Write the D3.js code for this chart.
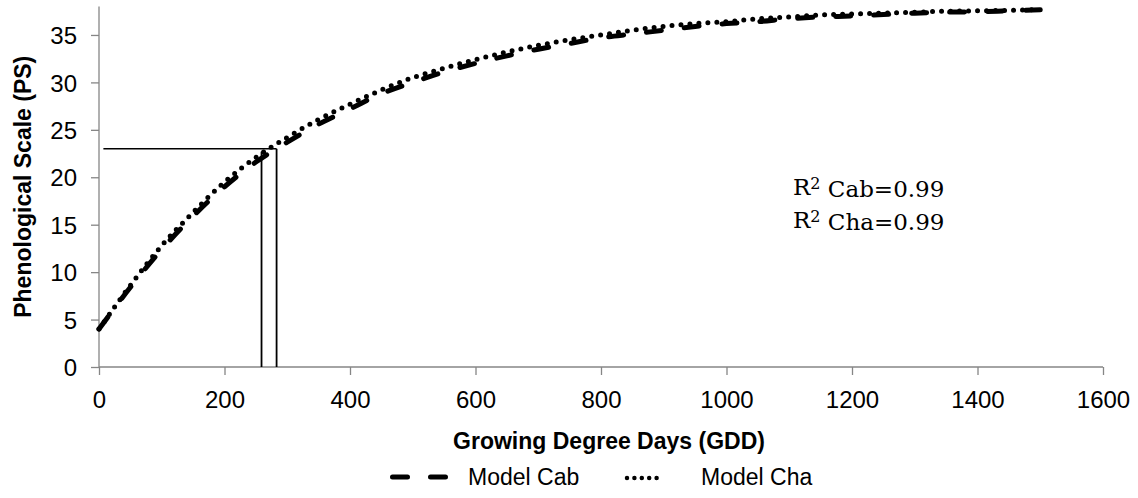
<!DOCTYPE html>
<html>
<head>
<meta charset="utf-8">
<script src="https://cdn.jsdelivr.net/npm/d3@7"></script>
<style>
  html, body { margin: 0; padding: 0; background: #fff; }
  svg { display: block; }
</style>
</head>
<body>
<svg id="chart" width="1138" height="498"></svg>
<script>
// ---- data ----
const gdd = [0, 50, 100, 150, 200, 250, 300, 350, 400, 450, 500, 550, 600, 650, 700, 750,
             800, 850, 900, 950, 1000, 1050, 1100, 1150, 1200, 1250, 1300, 1350, 1400, 1450, 1500];
const modelCab = [4.0, 8.4, 12.4, 15.9, 19.0, 21.6, 23.7, 25.6, 27.2, 28.8, 30.0, 31.1, 32.0, 32.8, 33.5, 34.1,
                  34.7, 35.1, 35.5, 35.9, 36.2, 36.4, 36.7, 36.9, 37.0, 37.15, 37.3, 37.4, 37.45, 37.55, 37.65];
const modelCha = [4.0, 8.6, 12.8, 16.3, 19.5, 22.1, 24.2, 26.1, 27.7, 29.2, 30.5, 31.5, 32.4, 33.2, 33.9, 34.5,
                  35.0, 35.5, 35.9, 36.2, 36.4, 36.7, 36.9, 37.1, 37.2, 37.3, 37.4, 37.5, 37.55, 37.6, 37.7];
const xTicks = [0, 200, 400, 600, 800, 1000, 1200, 1400, 1600];
const yTicks = [0, 5, 10, 15, 20, 25, 30, 35];
const xDomain = [0, 1600];
const yDomain = [0, 38];
// reference lines: horizontal PS level and vertical GDD marks
const refLevel = 23;
const refHStart = 7;
const refVLines = [{ gdd: 259, top: 22.7 }, { gdd: 283, top: 23 }];
const seriesNames = ["Model Cab", "Model Cha"];
const annotation = [["R", "2", " Cab=0.99"], ["R", "2", " Cha=0.99"]];

(function () {
// ---- layout ----
const svg = d3.select("#chart");
const pL = 99, pR = 1103, pT = 6.5, pB = 367;
const x = d3.scaleLinear().domain(xDomain).range([pL, pR]);
const y = d3.scaleLinear().domain(yDomain).range([pB, pT]);
const axisColor = "#868686";
const sans = "'Liberation Sans', Arial, sans-serif";

// axes
const gx = svg.append("g").attr("transform", `translate(0,${pB})`)
  .call(d3.axisBottom(x).tickValues(xTicks).tickSize(8).tickPadding(10).tickFormat(d3.format("d")));
const gy = svg.append("g").attr("transform", `translate(${pL},0)`)
  .call(d3.axisLeft(y).tickValues(yTicks).tickSize(8).tickPadding(14).tickFormat(d3.format("d")));
[gx, gy].forEach(g => {
  g.select(".domain").attr("stroke", axisColor).attr("stroke-width", 1.3);
  g.selectAll(".tick line").attr("stroke", axisColor).attr("stroke-width", 1.3);
  g.selectAll(".tick text").attr("fill", "#000").style("font-family", sans).style("font-size", "24px");
});
gy.select(".domain").attr("d", `M0,${pB}V${pT}`);
gx.select(".domain").attr("d", `M${pL},0H${pR}`);
gy.selectAll(".tick text").attr("dy", "0.36em");
gx.selectAll(".tick text").attr("dy", "0.95em");

// reference lines
svg.append("line")
  .attr("x1", x(refHStart)).attr("x2", x(refVLines[1].gdd))
  .attr("y1", y(refLevel)).attr("y2", y(refLevel))
  .attr("stroke", "#000").attr("stroke-width", 1.5);
svg.selectAll(".vref").data(refVLines).enter().append("line")
  .attr("x1", d => x(d.gdd)).attr("x2", d => x(d.gdd))
  .attr("y1", y(0)).attr("y2", d => y(d.top))
  .attr("stroke", "#000").attr("stroke-width", 1.8);

// curves
const line = d3.line().x(d => x(d[0])).y(d => y(d[1])).curve(d3.curveMonotoneX);
svg.append("path").datum(gdd.map((g, i) => [g, modelCab[i]]))
  .attr("d", line).attr("fill", "none").attr("stroke", "#000")
  .attr("stroke-width", 5).attr("stroke-linecap", "round").attr("stroke-dasharray", "15,23");
svg.append("path").datum(gdd.map((g, i) => [g, modelCha[i]]))
  .attr("d", line).attr("fill", "none").attr("stroke", "#000")
  .attr("stroke-width", 5).attr("stroke-linecap", "round").attr("stroke-dasharray", "0,9");

// axis titles
svg.append("text").attr("x", 609).attr("y", 449).attr("text-anchor", "middle")
  .style("font-family", sans).style("font-size", "23px").style("font-weight", "bold")
  .text("Growing Degree Days (GDD)");
svg.append("text").attr("transform", `translate(31,${(pT + pB) / 2}) rotate(-90)`)
  .attr("text-anchor", "middle")
  .style("font-family", sans).style("font-size", "23px").style("font-weight", "bold")
  .text("Phenological Scale (PS)");

// legend
const lg = svg.append("g");
lg.append("line").attr("x1", 392.5).attr("x2", 446).attr("y1", 477).attr("y2", 477)
  .attr("stroke", "#000").attr("stroke-width", 5).attr("stroke-linecap", "round").attr("stroke-dasharray", "15,23");
lg.append("text").attr("x", 468).attr("y", 485).style("font-family", sans).style("font-size", "23px").text(seriesNames[0]);
lg.append("line").attr("x1", 627).attr("x2", 664).attr("y1", 478).attr("y2", 478)
  .attr("stroke", "#000").attr("stroke-width", 4.5).attr("stroke-linecap", "round").attr("stroke-dasharray", "0,7.4");
lg.append("text").attr("x", 701).attr("y", 485).style("font-family", sans).style("font-size", "23px").text(seriesNames[1]);

// annotation
annotation.forEach((parts, i) => {
  const t = svg.append("text").attr("x", 793).attr("y", 195 + i * 33)
    .style("font-family", "'DejaVu Serif', serif").style("font-size", "23px");
  t.append("tspan").text(parts[0]);
  t.append("tspan").attr("dy", "-0.35em").style("font-size", "16px").text(parts[1]);
  t.append("tspan").attr("dy", "0.35em").text(parts[2]);
});
})();
</script>
</body>
</html>
